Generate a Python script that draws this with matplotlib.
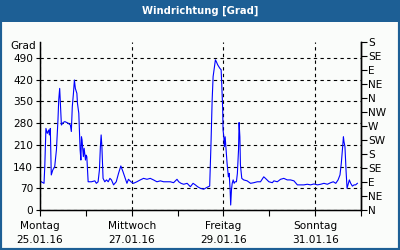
import matplotlib
matplotlib.use("Agg")
import matplotlib.pyplot as plt
import matplotlib.patches as patches

# hours since Montag 25.01.16 00:00, wind direction in degrees
hours = [0.7, 2.1, 2.5, 3.1, 3.8, 4.6, 4.9, 5.4, 5.9, 6.7, 7.7, 8.6, 9.4, 9.8, 10.3, 10.6,
         11.2, 12.1, 13.0, 14.7, 15.9, 16.4, 16.9, 17.5, 18.0, 18.5, 19.3, 19.6, 20.3, 21.0,
         21.4, 21.7, 22.0, 22.4, 22.7, 23.1, 23.4, 23.8, 24.1, 24.5, 25.2, 26.9, 28.7, 29.5,
         30.4, 31.1, 31.6, 32.0, 32.4, 33.0, 33.9, 34.8, 35.7, 36.6, 37.4, 38.5, 39.9, 41.1,
         42.3, 43.4, 44.6, 45.5, 46.3, 47.6, 48.9, 50.7, 52.5, 54.2, 56.0, 57.7, 59.4, 61.2,
         63.0, 64.7, 66.5, 68.2, 69.9, 71.7, 72.6, 73.8, 75.2, 77.0, 78.7, 80.1, 81.3, 82.5,
         83.9, 85.7, 87.4, 88.8, 89.5, 90.1, 90.6, 91.3, 91.8, 92.3, 93.0, 94.1, 94.8, 95.1,
         95.6, 95.8, 96.2, 96.5, 96.9, 97.4, 97.9, 98.6, 99.0, 99.5, 99.8, 100.2, 100.6, 101.1,
         101.6, 102.1, 102.8, 103.3, 103.9, 104.2, 104.6, 104.9, 105.6, 106.6, 108.4, 110.2,
         111.9, 113.7, 115.4, 117.1, 118.0, 119.8, 121.6, 122.4, 124.2, 125.9, 127.6, 129.4,
         131.1, 132.9, 134.7, 136.4, 138.1, 139.9, 141.6, 143.4, 145.2, 146.9, 148.6, 150.4,
         152.1, 153.5, 154.8, 156.0, 157.0, 157.7, 158.3, 158.4, 158.8, 159.1, 159.6, 160.2,
         160.7, 161.2, 161.9, 162.6, 163.5, 164.4, 165.2, 166.1]
grad = [91, 86, 140, 263, 247, 258, 242, 263, 113, 129, 140, 194, 290, 355, 392, 355,
        274, 282, 285, 280, 274, 253, 333, 376, 419, 392, 376, 344, 312, 194,
        161, 236, 226, 194, 172, 199, 183, 161, 177, 172, 91, 91, 94, 86,
        91, 129, 204, 242, 204, 102, 91, 97, 91, 102, 97, 81, 91, 118,
        142, 124, 102, 86, 99, 91, 86, 91, 97, 102, 99, 102, 97, 91,
        94, 91, 91, 91, 88, 99, 91, 86, 83, 86, 75, 86, 81, 75,
        70, 67, 73, 77, 215, 355, 430, 462, 484, 478, 468, 457, 452, 409,
        328, 258, 236, 204, 236, 194, 151, 107, 118, 65, 16, 65, 86, 97,
        86, 91, 91, 118, 194, 282, 236, 145, 102, 97, 94, 86,
        88, 91, 91, 107, 102, 91, 88, 94, 91, 99, 102, 97,
        97, 94, 81, 81, 81, 83, 81, 84, 81, 83, 86, 83,
        88, 91, 86, 97, 113, 151, 194, 204, 236, 220, 204, 124,
        70, 81, 97, 86, 77, 81, 81, 86]

day_ticks = [0, 48, 96, 144]
day_labels = ["Montag\n25.01.16", "Mittwoch\n27.01.16", "Freitag\n29.01.16", "Sonntag\n31.01.16"]
grad_ticks = [0, 70, 140, 210, 280, 350, 420, 490]
dir_ticks = [0, 45, 90, 135, 180, 225, 270, 315, 360, 405, 450, 495, 540]
dir_labels = ["N", "NE", "E", "SE", "S", "SW", "W", "NW", "N", "NE", "E", "SE", "S"]

blue = "#1d5f95"
fs = 7.6

fig = plt.figure(figsize=(4, 2.5), dpi=100, facecolor="#fafcfa")
# frame and title bar
fig.patches.append(patches.Rectangle((0, 0), 1, 1, transform=fig.transFigure,
                                     fill=False, edgecolor=blue, linewidth=3, zorder=0))
fig.patches.append(patches.Rectangle((0, 1 - 22 / 250), 1, 22 / 250, transform=fig.transFigure,
                                     facecolor=blue, edgecolor="none", zorder=1))
fig.text(0.5, 1 - 11 / 250, "Windrichtung [Grad]", color="white", fontsize=7.2,
         fontweight="bold", ha="center", va="center")

ax = fig.add_axes([40 / 400, 1 - 210 / 250, 321 / 400, 167.5 / 250])
ax.set_facecolor("#fafcfa")
ax.plot(hours, grad, color="#0000ff", linewidth=0.8)
ax.set_xlim(0, 168)
ax.set_ylim(0, 540)

ax.set_xticks(day_ticks)
ax.set_xticklabels(day_labels, fontsize=fs, linespacing=1.45)
ax.set_xticks([24, 72, 120, 168], minor=True)
ax.set_yticks(grad_ticks)
ax.set_yticklabels([str(v) for v in grad_ticks], fontsize=fs)
ax.tick_params(axis="x", which="both", length=4, width=0.8, pad=4)
ax.tick_params(axis="y", length=3, width=0.8, pad=2)
ax.grid(True, color="black", linestyle=(0, (3, 3)), linewidth=0.8)
ax.spines["top"].set_visible(False)
for s in ["left", "bottom", "right"]:
    ax.spines[s].set_linewidth(1.0)

ax2 = ax.twinx()
ax2.set_ylim(0, 540)
ax2.set_yticks(dir_ticks)
ax2.set_yticklabels(dir_labels, fontsize=fs)
ax2.tick_params(axis="y", length=4, width=0.8, pad=1)
ax2.spines["top"].set_visible(False)
ax2.spines["right"].set_linewidth(1.0)

fig.text(36 / 400, 1 - 46 / 250, "Grad", fontsize=fs, ha="right", va="center")

fig.savefig("out.png", dpi=100, facecolor=fig.get_facecolor())
